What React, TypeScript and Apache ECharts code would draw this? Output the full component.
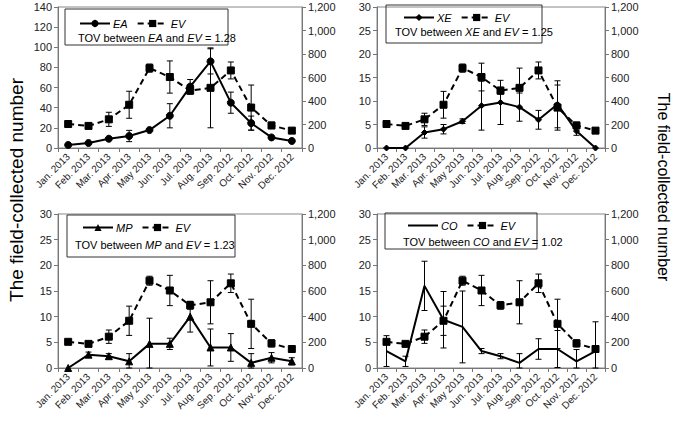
import React, { useEffect, useRef } from "react";
import * as echarts from "echarts";

const months = ["Jan. 2013", "Feb. 2013", "Mar. 2013", "Apr. 2013", "May 2013", "Jun. 2013", "Jul. 2013", "Aug. 2013", "Sep. 2012", "Oct. 2012", "Nov. 2012", "Dec. 2012"];

const evValues = [204, 188, 244, 368, 680, 604, 488, 512, 660, 344, 192, 148];
const evErr = [15, 15, 52, 114, 35, 118, 30, 168, 72, 192, 28, 20];
const evErrPanel1 = [20, 20, 60, 115, 35, 137, 30, 340, 72, 192, 28, 20];

const eaValues = [3, 5, 9.2, 11.9, 17.8, 32, 61, 86, 45, 24.7, 10.5, 7];
const eaErr = [0, 0, 0, 5.6, 0, 12, 7, 12.5, 10.5, 7, 0, 0];

const xeValues = [0, 0, 3.3, 4, 5.7, 9, 9.7, 8.7, 6, 9.3, 3.6, 0];
const xeErr = [0, 0, 1.2, 1, 0.5, 5.2, 4.7, 3, 2, 5, 0.9, 0];

const mpValues = [0, 2.6, 2.3, 1.3, 4.7, 4.7, 10, 4, 4, 1, 2, 1.3];
const mpErr = [0, 0.5, 0.5, 1.5, 5, 1.1, 3, 3.6, 2.7, 1.8, 1, 0.7];

const coValues = [3.3, 1.3, 16, 9.4, 8, 3.3, 2.3, 1, 3.7, 3.7, 1.3, 3.3];
const coErr = [3, 1, 4.8, 5.5, 7, 0.5, 0.5, 1.8, 2, 3.6, 2.3, 5.7];

const tovValues = ["1.28", "1.25", "1.23", "1.02"];
const speciesNames = ["EA", "XE", "MP", "CO"];
const leftMax = [140, 30, 30, 30];
const leftInterval = [20, 5, 5, 5];
const rightMax = 1200;
const rightInterval = 200;
const yTitle = "The field-collected number";

const FONT = "'Liberation Sans', Arial, sans-serif";

export default function App() {
  const ref = useRef<HTMLDivElement>(null);
  useEffect(() => {
    document.body.style.margin = "0";
    if (!ref.current) return;
    const chart = echarts.init(ref.current, null, { renderer: "svg" });

    const grids = [
      { left: 58, top: 7, width: 244, height: 141 },
      { left: 377, top: 7, width: 228, height: 141 },
      { left: 58, top: 214, width: 244, height: 154 },
      { left: 377, top: 214, width: 228, height: 154 },
    ];
    const speciesVals = [eaValues, xeValues, mpValues, coValues];
    const speciesErrs = [eaErr, xeErr, mpErr, coErr];
    const symbols = ["circle", "diamond", "triangle", "circle"];
    const symSizes = [7, 6, 7, 0];
    const showSym = [true, true, true, false];
    const evErrs = [evErrPanel1, evErr, evErr, evErr];

    const axisColor = "#777";
    const labelColor = "#222";

    const xAxis: any[] = [];
    const yAxis: any[] = [];
    const series: any[] = [];

    const errRender = (params: any, api: any) => {
      const x = api.value(0);
      const lo = api.value(1);
      const hi = api.value(2);
      const p1 = api.coord([x, lo]);
      const p2 = api.coord([x, hi]);
      const w = 3;
      const st = { stroke: "#000", lineWidth: 1 };
      return {
        type: "group",
        children: [
          { type: "line", shape: { x1: p1[0], y1: p1[1], x2: p2[0], y2: p2[1] }, style: st },
          { type: "line", shape: { x1: p1[0] - w, y1: p1[1], x2: p1[0] + w, y2: p1[1] }, style: st },
          { type: "line", shape: { x1: p2[0] - w, y1: p2[1], x2: p2[0] + w, y2: p2[1] }, style: st },
        ],
      };
    };

    const errData = (vals: number[], errs: number[]) =>
      vals
        .map((v, i) => [i, Math.max(0, v - errs[i]), v + errs[i]])
        .filter((d, i) => errs[i] > 0);

    grids.forEach((g, i) => {
      xAxis.push({
        type: "category",
        gridIndex: i,
        data: months,
        boundaryGap: true,
        axisLine: { lineStyle: { color: axisColor } },
        axisTick: { show: true, inside: false, length: 4, lineStyle: { color: axisColor } },
        axisLabel: { rotate: 45, fontSize: 10, color: labelColor, fontFamily: FONT, interval: 0, margin: 7 },
        splitLine: { show: false },
      });
      yAxis.push({
        type: "value",
        gridIndex: i,
        position: "left",
        min: 0,
        max: leftMax[i],
        interval: leftInterval[i],
        axisLine: { show: true, lineStyle: { color: axisColor } },
        axisTick: { show: true, length: 4, lineStyle: { color: axisColor } },
        axisLabel: { fontSize: 11, color: labelColor, fontFamily: FONT, margin: 6 },
        splitLine: { show: false },
      });
      yAxis.push({
        type: "value",
        gridIndex: i,
        position: "right",
        min: 0,
        max: rightMax,
        interval: rightInterval,
        axisLine: { show: true, lineStyle: { color: axisColor } },
        axisTick: { show: true, length: 4, lineStyle: { color: axisColor } },
        axisLabel: {
          fontSize: 11,
          color: labelColor,
          fontFamily: FONT,
          margin: 6,
          formatter: (v: number) => v.toLocaleString("en-US"),
        },
        splitLine: { show: false },
      });

      series.push({
        type: "custom",
        name: speciesNames[i] + "-err",
        xAxisIndex: i,
        yAxisIndex: 2 * i,
        renderItem: errRender,
        encode: { x: 0, y: [1, 2] },
        data: errData(speciesVals[i], speciesErrs[i]),
        z: 1,
        silent: true,
      });
      series.push({
        type: "custom",
        name: "EV-err" + i,
        xAxisIndex: i,
        yAxisIndex: 2 * i + 1,
        renderItem: errRender,
        encode: { x: 0, y: [1, 2] },
        data: errData(evValues, evErrs[i]),
        z: 1,
        silent: true,
      });
      series.push({
        type: "line",
        name: speciesNames[i],
        xAxisIndex: i,
        yAxisIndex: 2 * i,
        data: speciesVals[i],
        symbol: symbols[i],
        symbolSize: symSizes[i],
        showSymbol: showSym[i],
        lineStyle: { color: "#000", width: 2, type: "solid" },
        itemStyle: showSym[i]
          ? { color: "#000", borderColor: "#000" }
          : { color: "rgba(0,0,0,0)", borderColor: "rgba(0,0,0,0)", borderWidth: 0 },
        z: 3,
      });
      series.push({
        type: "line",
        name: "EV",
        xAxisIndex: i,
        yAxisIndex: 2 * i + 1,
        data: evValues,
        symbol: "rect",
        symbolSize: 7,
        lineStyle: { color: "#000", width: 2, type: [6, 4] },
        itemStyle: { color: "#000", borderColor: "#000" },
        z: 3,
      });
    });

    const legendPos = [
      { left: 79, cy: 23 },
      { left: 403, cy: 17 },
      { left: 82, cy: 227 },
      { left: 407, cy: 225 },
    ];
    const legends = legendPos.map((p, i) => ({
      orient: "horizontal",
      left: p.left,
      top: p.cy - 5,
      padding: 0,
      itemWidth: 30,
      itemHeight: 9,
      itemGap: 9,
      selectedMode: false,
      data: [speciesNames[i], "EV"],
      textStyle: { fontSize: 11, fontStyle: "italic", color: "#000", fontFamily: FONT, padding: [0, 0, 0, -2] },
    }));

    const boxes = [
      { x: 65, y: 9, w: 163, h: 36 },
      { x: 386, y: 5, w: 156, h: 38 },
      { x: 67, y: 215, w: 168, h: 42 },
      { x: 385, y: 213, w: 152, h: 36 },
    ];
    const tovPos = [
      { x: 78, y: 38 },
      { x: 395, y: 32 },
      { x: 75, y: 245 },
      { x: 403, y: 242 },
    ];

    const graphics: any[] = [];
    boxes.forEach((b) => {
      graphics.push({
        type: "rect",
        shape: { x: b.x, y: b.y, width: b.w, height: b.h },
        style: { fill: "none", stroke: "#333", lineWidth: 1 },
        z: 10,
      });
    });
    tovPos.forEach((p, i) => {
      graphics.push({
        type: "text",
        x: p.x,
        y: p.y,
        style: {
          text: `TOV between {i|${speciesNames[i]}} and {i|EV} = ${tovValues[i]}`,
          fontSize: 11,
          fontFamily: FONT,
          fill: "#000",
          verticalAlign: "middle",
          align: "left",
          rich: { i: { fontStyle: "italic", fontSize: 11, fontFamily: FONT, fill: "#000" } },
        },
        z: 10,
      });
    });
    graphics.push({
      type: "text",
      x: 16,
      y: 190,
      rotation: Math.PI / 2,
      style: { text: yTitle, fontSize: 19, fontFamily: FONT, fill: "#000", align: "center", verticalAlign: "middle" },
    });
    graphics.push({
      type: "text",
      x: 663,
      y: 187,
      rotation: -Math.PI / 2,
      style: { text: yTitle, fontSize: 16, fontFamily: FONT, fill: "#000", align: "center", verticalAlign: "middle" },
    });

    chart.setOption({
      animation: false,
      textStyle: { fontFamily: FONT },
      grid: grids.map((g) => ({ ...g, show: true, borderColor: "#888", borderWidth: 1, backgroundColor: "transparent" })),
      xAxis,
      yAxis,
      series,
      legend: legends,
      graphic: graphics,
    });

    return () => chart.dispose();
  }, []);

  return <div ref={ref} style={{ width: 675, height: 421 }} />;
}
